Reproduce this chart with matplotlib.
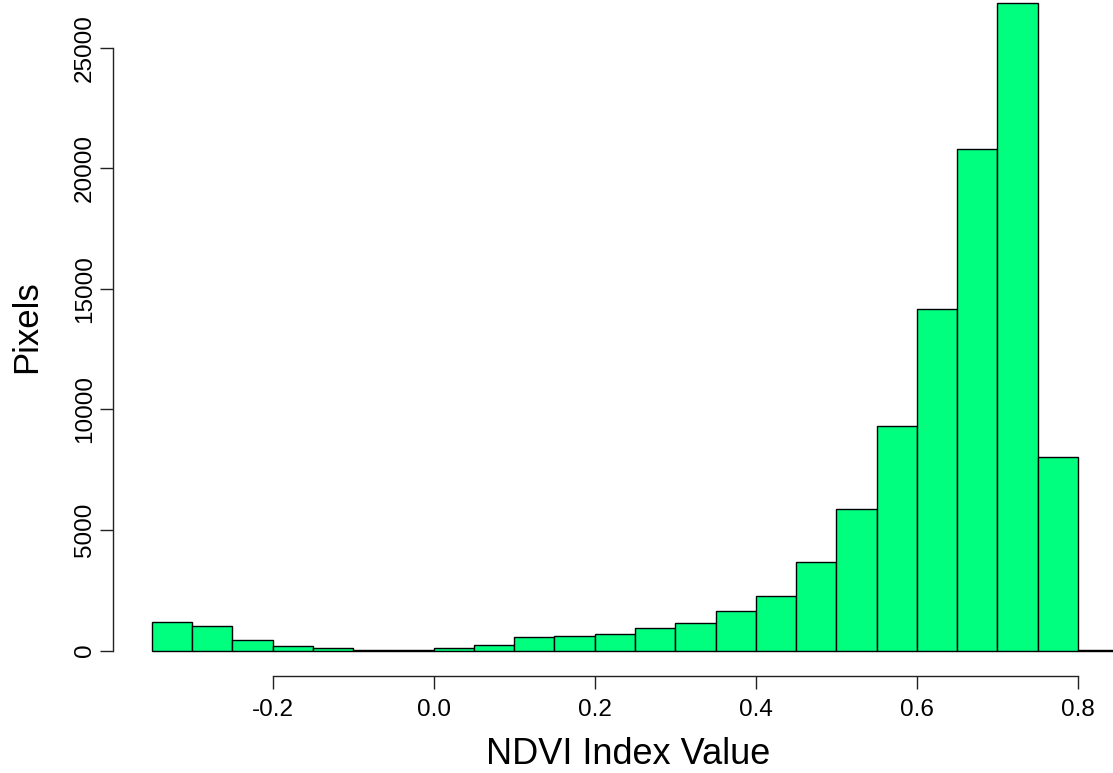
import numpy as np
from matplotlib import pyplot as plt

plt.rcParams['font.family'] = ['Liberation Sans', 'DejaVu Sans']

# histogram of NDVI values, bin width 0.05
bin_edges = np.round(np.arange(-0.35, 0.8501, 0.05), 2)
counts = [1190, 1010, 420, 190, 115, 40, 40, 100, 230, 540, 610, 680,
          925, 1120, 1620, 2280, 3680, 5860, 9300, 14160, 20790, 26850, 8040, 20]
x_ticks = [-0.2, 0.0, 0.2, 0.4, 0.6, 0.8]
x_labels = ["-0.2", "0.0", "0.2", "0.4", "0.6", "0.8"]
y_ticks = [0, 5000, 10000, 15000, 20000, 25000]

W, H = 1113, 773
fig = plt.figure(figsize=(W / 100, H / 100), dpi=100)

# R-style plot region (extends past the right and top of the image)
left_px, right_px = 113, 1157
bottom_px, top_px = 676.4, -22.9
ax = fig.add_axes([left_px / W, (H - bottom_px) / H,
                   (right_px - left_px) / W, (bottom_px - top_px) / H])

ax.bar(bin_edges[:-1], counts, width=0.05, align='edge',
       color='#00FF7F', edgecolor='black', linewidth=1.0)

span_x = bin_edges[-1] - bin_edges[0]
ax.set_xlim(bin_edges[0] - 0.04 * span_x, bin_edges[-1] + 0.04 * span_x)
ymax = max(counts)
ax.set_ylim(-0.04 * ymax, ymax * 1.04)

for s in ['top', 'right']:
    ax.spines[s].set_visible(False)
ax.spines['bottom'].set_bounds(x_ticks[0], x_ticks[-1])
ax.spines['left'].set_bounds(y_ticks[0], y_ticks[-1])
for s in ['bottom', 'left']:
    ax.spines[s].set_linewidth(1.0)
    ax.spines[s].set_color('#222222')

ax.set_xticks(x_ticks)
ax.set_xticklabels(x_labels)
ax.set_yticks(y_ticks)
ax.set_yticklabels([str(v) for v in y_ticks], rotation=90, va='center')
ax.tick_params(axis='both', length=9.5, width=1.0, color='#222222', labelsize=17.5)
ax.tick_params(axis='x', pad=7)
ax.tick_params(axis='y', pad=3)

fig.text(628 / W, 1 - 755 / H, "NDVI Index Value", ha='center', va='center', fontsize=26)
fig.text(27 / W, 1 - 327 / H, "Pixels", ha='center', va='center', fontsize=25, rotation=90)

fig.savefig("out.png", dpi=100)
